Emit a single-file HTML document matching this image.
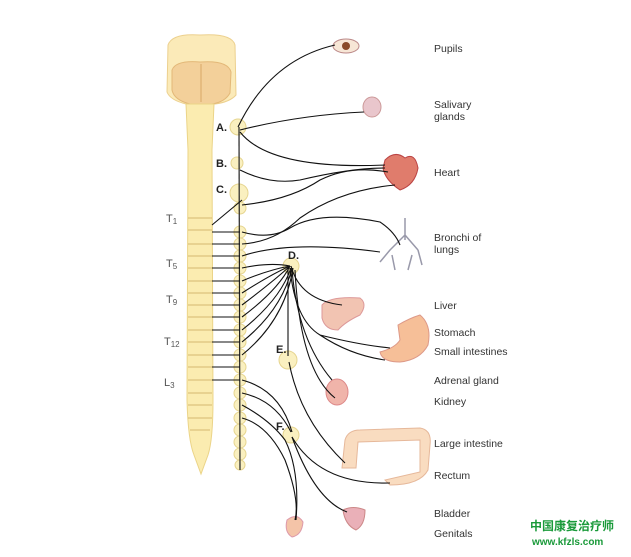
<!DOCTYPE html>
<html><head><meta charset="utf-8"><style>
body{margin:0;background:#fff;width:631px;height:552px;overflow:hidden;font-family:"Liberation Sans",sans-serif}
</style></head><body>
<svg width="631" height="552" viewBox="0 0 631 552" xmlns="http://www.w3.org/2000/svg" font-family="Liberation Sans, sans-serif">
<!-- brainstem -->
<path d="M168,45 Q172,33 200,35 Q232,33 235,45 L236,95 Q230,102 215,104 L186,104 Q170,100 167,92 Z" fill="#fbeab8" stroke="#ecd08e" stroke-width="1"/>
<path d="M172,70 Q176,60 200,62 Q228,60 231,72 L230,93 Q225,102 212,104 L190,104 Q174,100 172,90 Z" fill="#f3d09a" stroke="#e3b878" stroke-width="1"/>
<line x1="201" y1="64" x2="201" y2="102" stroke="#d9a866" stroke-width="1"/>
<!-- spinal cord -->
<path d="M186,104 L214,104 L212,150 L213,400 Q213,440 208,455 L201,474 L194,455 Q188,440 187,400 L188,150 Z" fill="#fbecb0" stroke="#ebd488" stroke-width="1"/>
<g stroke="#c7a85a" stroke-width="0.8">
<line x1="188" y1="218" x2="212" y2="218"/><line x1="188" y1="230" x2="212" y2="230"/><line x1="188" y1="244" x2="212" y2="244"/><line x1="188" y1="256" x2="212" y2="256"/><line x1="188" y1="268" x2="212" y2="268"/><line x1="188" y1="281" x2="212" y2="281"/><line x1="188" y1="293" x2="212" y2="293"/><line x1="188" y1="305" x2="212" y2="305"/><line x1="188" y1="317" x2="212" y2="317"/><line x1="188" y1="330" x2="212" y2="330"/><line x1="188" y1="342" x2="212" y2="342"/><line x1="188" y1="355" x2="212" y2="355"/><line x1="188" y1="367" x2="212" y2="367"/><line x1="188" y1="380" x2="212" y2="380"/><line x1="188" y1="393" x2="212" y2="393"/><line x1="188" y1="405" x2="212" y2="405"/><line x1="188" y1="418" x2="212" y2="418"/><line x1="190" y1="430" x2="210" y2="430"/>
</g>
<!-- sympathetic chain beads -->
<g fill="#faf0c0" stroke="#e6d590" stroke-width="1">
<circle cx="238" cy="127" r="8"/><circle cx="237" cy="163" r="6"/><circle cx="239" cy="193" r="9"/><circle cx="240" cy="208" r="6"/>
<circle cx="240" cy="232" r="6"/><circle cx="240" cy="244" r="6"/><circle cx="240" cy="256" r="6"/><circle cx="240" cy="268" r="6"/><circle cx="240" cy="281" r="6"/><circle cx="240" cy="293" r="6"/><circle cx="240" cy="305" r="6"/><circle cx="240" cy="317" r="6"/><circle cx="240" cy="330" r="6"/><circle cx="240" cy="342" r="6"/><circle cx="240" cy="355" r="6"/><circle cx="240" cy="367" r="6"/><circle cx="240" cy="380" r="6"/><circle cx="240" cy="393" r="6"/><circle cx="240" cy="405" r="6"/><circle cx="240" cy="418" r="6"/><circle cx="240" cy="430" r="6"/><circle cx="240" cy="442" r="6"/><circle cx="240" cy="454" r="6"/><circle cx="240" cy="465" r="5"/>
<circle cx="291" cy="266" r="8"/><circle cx="288" cy="360" r="9"/><circle cx="291" cy="435" r="8"/>
</g>
<line x1="239" y1="127" x2="240" y2="470" stroke="#222" stroke-width="1.2"/>
<!-- organs -->
<ellipse cx="346" cy="46" rx="13" ry="7" fill="#f7e6d6" stroke="#b88" stroke-width="1"/><circle cx="346" cy="46" r="4" fill="#8a4a2a"/>
<ellipse cx="372" cy="107" rx="9" ry="10" fill="#e9c6cc" stroke="#c99"/>
<path d="M385,160 Q395,150 405,158 Q415,152 418,168 Q415,185 400,190 Q385,180 383,168 Z" fill="#e07c6c" stroke="#b44"/>
<g stroke="#99a" stroke-width="1.5" fill="none"><path d="M405,218 L405,240 M405,235 L390,250 M405,235 L418,250 M390,250 L380,262 M418,250 L422,265 M392,255 L395,270 M412,255 L408,270"/></g>
<path d="M322,305 Q330,296 360,298 Q368,304 360,315 Q345,322 338,330 Q325,330 322,318 Z" fill="#f2c4b2" stroke="#d99"/>
<path d="M398,325 Q410,318 420,315 Q432,325 428,345 Q420,360 400,362 Q382,362 380,352 Q395,348 400,340 Z" fill="#f6bf98" stroke="#d98"/>
<ellipse cx="337" cy="392" rx="11" ry="13" fill="#f0b4aa" stroke="#d88"/>
<path d="M342,468 L345,440 Q348,430 360,430 L420,428 Q432,430 430,445 L428,470 Q420,485 390,485 L385,480 L420,472 L420,440 L358,442 L356,468 Z" fill="#f9dcc0" stroke="#e6b89a"/>
<path d="M343,510 Q353,505 365,510 Q365,525 356,530 Q345,525 343,510 Z" fill="#eab0b8" stroke="#c88"/>
<path d="M287,520 Q297,512 303,522 Q302,535 292,537 Q284,532 287,520 Z" fill="#f4c4a8" stroke="#d9a"/>
<!-- nerves -->
<g stroke="#111" stroke-width="1.1" fill="none">
<path d="M238,127 Q270,60 335,45"/>
<path d="M240,130 Q300,115 364,112"/>
<path d="M240,132 Q270,170 385,165"/>
<path d="M240,170 Q270,185 300,180 Q350,168 385,168"/>
<path d="M242,205 Q290,200 320,180 Q350,165 388,172"/>
<path d="M212,225 L242,200"/>
<g><path d="M212,232 L240,232"/><path d="M212,244 L240,244"/><path d="M212,256 L240,256"/><path d="M212,268 L240,268"/><path d="M212,281 L240,281"/><path d="M212,293 L240,293"/><path d="M212,305 L240,305"/><path d="M212,317 L240,317"/><path d="M212,330 L240,330"/><path d="M212,342 L240,342"/><path d="M212,355 L240,355"/><path d="M212,367 L240,367"/><path d="M212,380 L240,380"/></g>
<path d="M242,232 Q270,240 290,228 Q320,210 380,222 Q395,232 400,245"/>
<path d="M242,244 Q275,242 300,218 Q340,190 395,185"/>
<path d="M242,256 Q290,240 380,252"/>
<g><path d="M242,268 Q270,262 290,266"/><path d="M242,281 Q268,270 290,266"/><path d="M242,293 Q270,275 290,266"/><path d="M242,305 Q275,280 290,266"/><path d="M242,317 Q278,290 290,266"/><path d="M242,330 Q280,300 291,268"/><path d="M242,342 Q282,310 292,268"/><path d="M242,355 Q285,320 293,268"/></g>
<path d="M291,266 Q300,300 342,305"/>
<path d="M290,268 Q295,320 320,335 Q360,345 390,348 M320,335 Q350,355 385,360"/>
<path d="M288,268 L288,356"/>
<path d="M295,270 Q300,370 335,398"/>
<path d="M292,270 Q298,340 332,380"/>
<path d="M289,362 Q300,420 345,463"/>
<path d="M242,380 Q280,390 292,432"/><path d="M242,393 Q275,400 291,432"/><path d="M242,405 Q270,420 285,440 Q300,470 296,520"/><path d="M242,418 Q268,425 285,460 Q300,500 295,520"/>
<path d="M292,437 Q320,485 390,483"/>
<path d="M292,437 Q315,500 347,512"/>
</g>
<!-- labels -->
<g font-size="11" fill="#222" font-weight="bold">
<text x="216" y="131">A.</text><text x="216" y="167">B.</text><text x="216" y="193">C.</text>
<text x="288" y="259">D.</text><text x="276" y="353">E.</text><text x="276" y="430">F.</text>
</g>
<g font-size="11" fill="#555">
<text x="166" y="222">T<tspan font-size="8" dy="2">1</tspan></text>
<text x="166" y="267">T<tspan font-size="8" dy="2">5</tspan></text>
<text x="166" y="303">T<tspan font-size="8" dy="2">9</tspan></text>
<text x="164" y="345">T<tspan font-size="8" dy="2">12</tspan></text>
<text x="164" y="386">L<tspan font-size="8" dy="2">3</tspan></text>
</g>
<g font-size="10.5" fill="#333">
<text x="434" y="52">Pupils</text>
<text x="434" y="108">Salivary</text><text x="434" y="120">glands</text>
<text x="434" y="176">Heart</text>
<text x="434" y="241">Bronchi of</text><text x="434" y="253">lungs</text>
<text x="434" y="309">Liver</text>
<text x="434" y="336">Stomach</text>
<text x="434" y="355">Small intestines</text>
<text x="434" y="384">Adrenal gland</text>
<text x="434" y="405">Kidney</text>
<text x="434" y="447">Large intestine</text>
<text x="434" y="479">Rectum</text>
<text x="434" y="517">Bladder</text>
<text x="434" y="537">Genitals</text>
</g>
<text x="530" y="530" font-size="12" fill="#1a9a3a" font-family="Liberation Sans, Noto Sans CJK SC, sans-serif" font-weight="bold">中国康复治疗师</text>
<text x="532" y="545" font-size="10" fill="#1a9a3a" font-weight="bold">www.kfzls.com</text>
</svg>
</body></html>
